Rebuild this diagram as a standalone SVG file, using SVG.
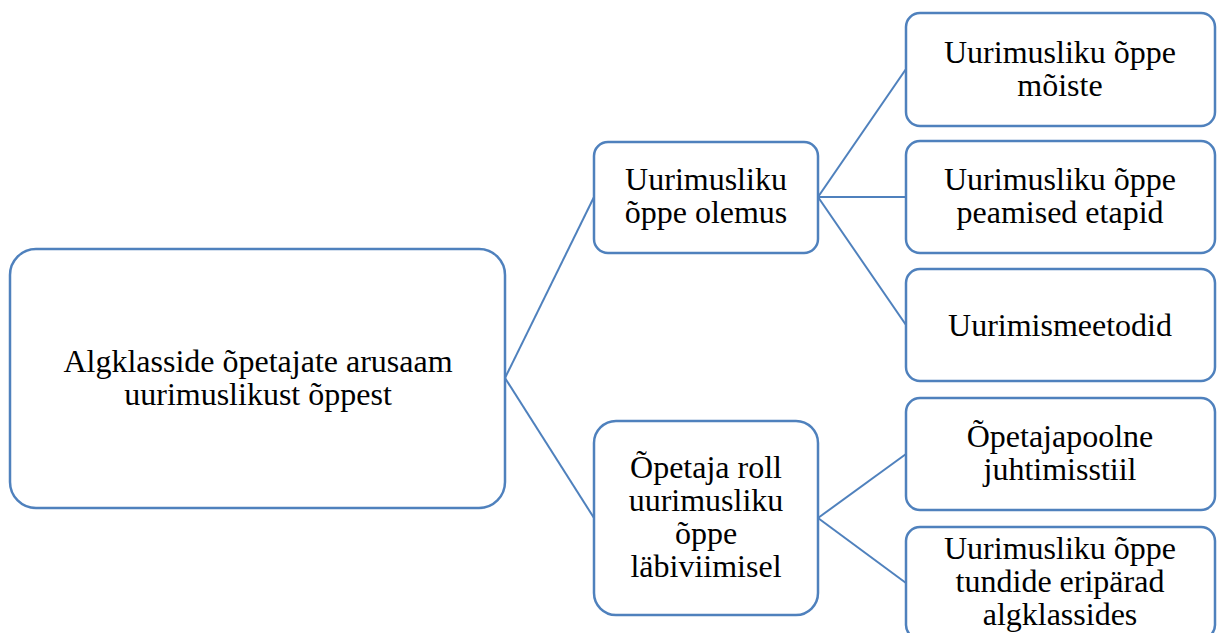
<svg xmlns="http://www.w3.org/2000/svg" width="1219" height="633" viewBox="0 0 1219 633">
<style>
.box{fill:#fff;stroke:#4f81bd;stroke-width:2.5}
.t{font-family:"Liberation Serif","Times New Roman",serif;font-size:32px;fill:#000;text-anchor:middle}
.c{stroke:#4f81bd;stroke-width:2;fill:none}
</style>
<rect width="1219" height="633" fill="#fff"/>
<g id="connectors">
<line class="c" x1="505" y1="378" x2="594" y2="197"/>
<line class="c" x1="505" y1="378" x2="594" y2="518"/>
<line class="c" x1="818" y1="197" x2="906" y2="69"/>
<line class="c" x1="818" y1="197" x2="906" y2="197"/>
<line class="c" x1="818" y1="197" x2="906" y2="325"/>
<line class="c" x1="818" y1="518" x2="906" y2="454"/>
<line class="c" x1="818" y1="518" x2="906" y2="583"/>
</g>
<g id="root">
<rect class="box" x="10" y="249" width="495" height="259" rx="26"/>
<text class="t"><tspan x="258" y="372">Algklasside õpetajate arusaam</tspan><tspan x="258" y="405">uurimuslikust õppest</tspan></text>
</g>
<g id="mid1">
<rect class="box" x="594" y="142" width="224" height="111" rx="14"/>
<text class="t"><tspan x="706" y="190">Uurimusliku</tspan><tspan x="706" y="223">õppe olemus</tspan></text>
</g>
<g id="mid2">
<rect class="box" x="594" y="421" width="224" height="194" rx="22"/>
<text class="t"><tspan x="706" y="478">Õpetaja roll</tspan><tspan x="706" y="511">uurimusliku</tspan><tspan x="706" y="544">õppe</tspan><tspan x="706" y="577">läbiviimisel</tspan></text>
</g>
<g id="r1">
<rect class="box" x="906" y="13" width="309" height="113" rx="14"/>
<text class="t"><tspan x="1060" y="63">Uurimusliku õppe</tspan><tspan x="1060" y="96">mõiste</tspan></text>
</g>
<g id="r2">
<rect class="box" x="906" y="141" width="309" height="112" rx="14"/>
<text class="t"><tspan x="1060" y="190">Uurimusliku õppe</tspan><tspan x="1060" y="223">peamised etapid</tspan></text>
</g>
<g id="r3">
<rect class="box" x="906" y="269" width="309" height="112" rx="14"/>
<text class="t" x="1060" y="336">Uurimismeetodid</text>
</g>
<g id="r4">
<rect class="box" x="906" y="398" width="309" height="112" rx="14"/>
<text class="t"><tspan x="1060" y="447">Õpetajapoolne</tspan><tspan x="1060" y="480">juhtimisstiil</tspan></text>
</g>
<g id="r5">
<rect class="box" x="906" y="527" width="309" height="112" rx="14"/>
<text class="t"><tspan x="1060" y="559">Uurimusliku õppe</tspan><tspan x="1060" y="592">tundide eripärad</tspan><tspan x="1060" y="625">algklassides</tspan></text>
</g>
</svg>
